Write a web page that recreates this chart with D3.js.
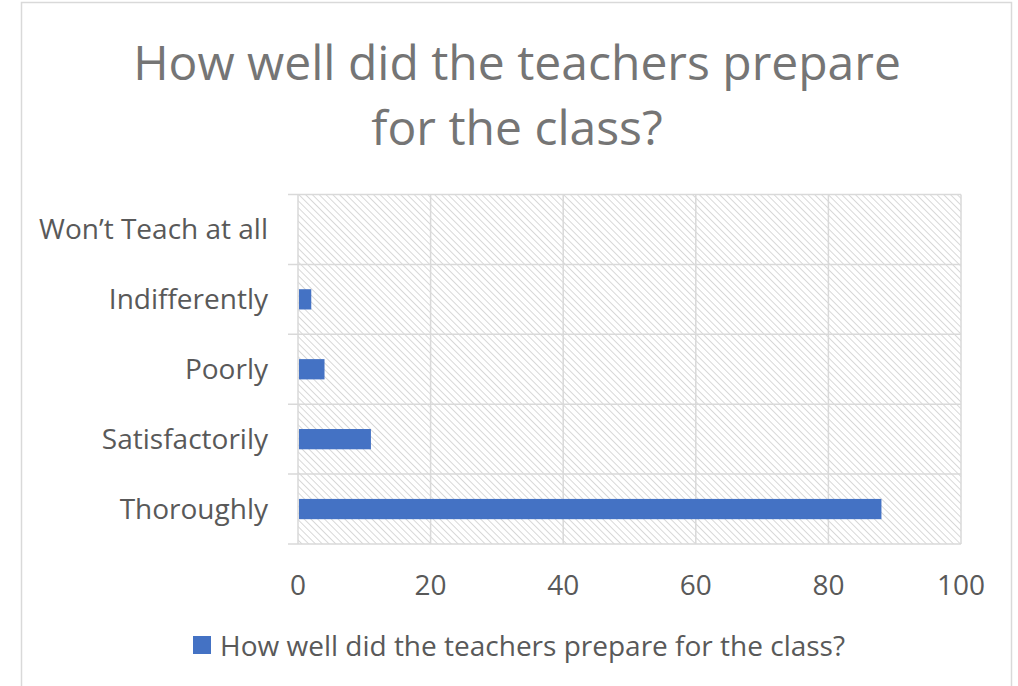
<!DOCTYPE html>
<html>
<head>
<meta charset="utf-8">
<script src="https://cdn.jsdelivr.net/npm/d3@7"></script>
<style>
  body { margin: 0; background: #fff; }
  text { font-family: "Open Sans", "Liberation Sans", sans-serif; }
</style>
</head>
<body>
<div id="chart"></div>
<script>
// chart data
const categories = ["Won\u2019t Teach at all", "Indifferently", "Poorly", "Satisfactorily", "Thoroughly"];
const values = [0, 2, 4, 11, 88];
const xTicks = [0, 20, 40, 60, 80, 100];
const seriesName = "How well did the teachers prepare for the class?";
const titleLines = ["How well did the teachers prepare", "for the class?"];

const W = 1018, H = 686;
const margin = {top: 194.5, right: 57, bottom: 142, left: 298};
const width = W - margin.left - margin.right,
      height = H - margin.top - margin.bottom;

const svg = d3.select("#chart")
  .append("svg")
  .attr("width", W)
  .attr("height", H);

// hatch pattern for plot background
const defs = svg.append("defs");
defs.append("pattern")
  .attr("id", "hatch")
  .attr("patternUnits", "userSpaceOnUse")
  .attr("width", 4.8)
  .attr("height", 4.8)
  .attr("patternTransform", "rotate(-45)")
  .append("line")
  .attr("x1", 0).attr("y1", 0)
  .attr("x2", 0).attr("y2", 4.8)
  .attr("stroke", "#d2d2d2")
  .attr("stroke-width", 1.7);

// outer chart border
svg.append("rect")
  .attr("x", 21.5).attr("y", 2.5)
  .attr("width", 990).attr("height", 700)
  .attr("fill", "none")
  .attr("stroke", "#d9d9d9")
  .attr("stroke-width", 1.5);

// title
svg.append("text")
  .attr("text-anchor", "middle")
  .attr("fill", "#757575")
  .attr("font-size", 48)
  .selectAll("tspan")
  .data(titleLines)
  .join("tspan")
  .attr("x", 517)
  .attr("y", (d, i) => 80 + i * 65)
  .text(d => d);

const g = svg.append("g")
  .attr("transform", "translate(" + margin.left + "," + margin.top + ")");

const x = d3.scaleLinear().domain([0, 100]).range([0, width]);
const y = d3.scaleBand().domain(categories.slice().reverse()).range([height, 0]).paddingInner(0).paddingOuter(0);

g.append("rect")
  .attr("width", width)
  .attr("height", height)
  .attr("fill", "url(#hatch)");

// vertical gridlines
g.selectAll(".vgrid")
  .data(xTicks)
  .join("line")
  .attr("class", "vgrid")
  .attr("x1", d => x(d)).attr("x2", d => x(d))
  .attr("y1", 0).attr("y2", height)
  .attr("stroke", "#d9d9d9")
  .attr("stroke-width", 1.5);

// horizontal lines at category boundaries (with tick stubs)
const bounds = categories.map(c => y(c)).concat([height]);
g.selectAll(".hgrid")
  .data(bounds)
  .join("line")
  .attr("class", "hgrid")
  .attr("x1", -10).attr("x2", width)
  .attr("y1", d => d).attr("y2", d => d)
  .attr("stroke", "#d9d9d9")
  .attr("stroke-width", 1.5);

// bars
const barH = y.bandwidth() * 0.29;
g.selectAll(".bar")
  .data(categories.map((c, i) => ({cat: c, val: values[i]})))
  .join("rect")
  .attr("class", "bar")
  .attr("x", x(0) + 1)
  .attr("y", d => y(d.cat) + (y.bandwidth() - barH) / 2)
  .attr("width", d => Math.max(0, x(d.val) - x(0) - 1))
  .attr("height", barH)
  .attr("fill", "#4472c4");

// category labels
g.selectAll(".cat")
  .data(categories)
  .join("text")
  .attr("class", "cat")
  .attr("x", -30)
  .attr("y", d => y(d) + y.bandwidth() / 2)
  .attr("dy", "0.35em")
  .attr("text-anchor", "end")
  .attr("font-size", 28)
  .attr("fill", "#595959")
  .text(d => d);

// x tick labels
g.selectAll(".xt")
  .data(xTicks)
  .join("text")
  .attr("class", "xt")
  .attr("x", d => x(d))
  .attr("y", height + 51)
  .attr("text-anchor", "middle")
  .attr("font-size", 28)
  .attr("fill", "#595959")
  .text(d => d);

// legend
svg.append("rect")
  .attr("x", 193).attr("y", 636)
  .attr("width", 18).attr("height", 18)
  .attr("fill", "#4472c4");
svg.append("text")
  .attr("x", 220)
  .attr("y", 656)
  .attr("font-size", 28)
  .attr("fill", "#595959")
  .text(seriesName);
</script>
</body>
</html>
